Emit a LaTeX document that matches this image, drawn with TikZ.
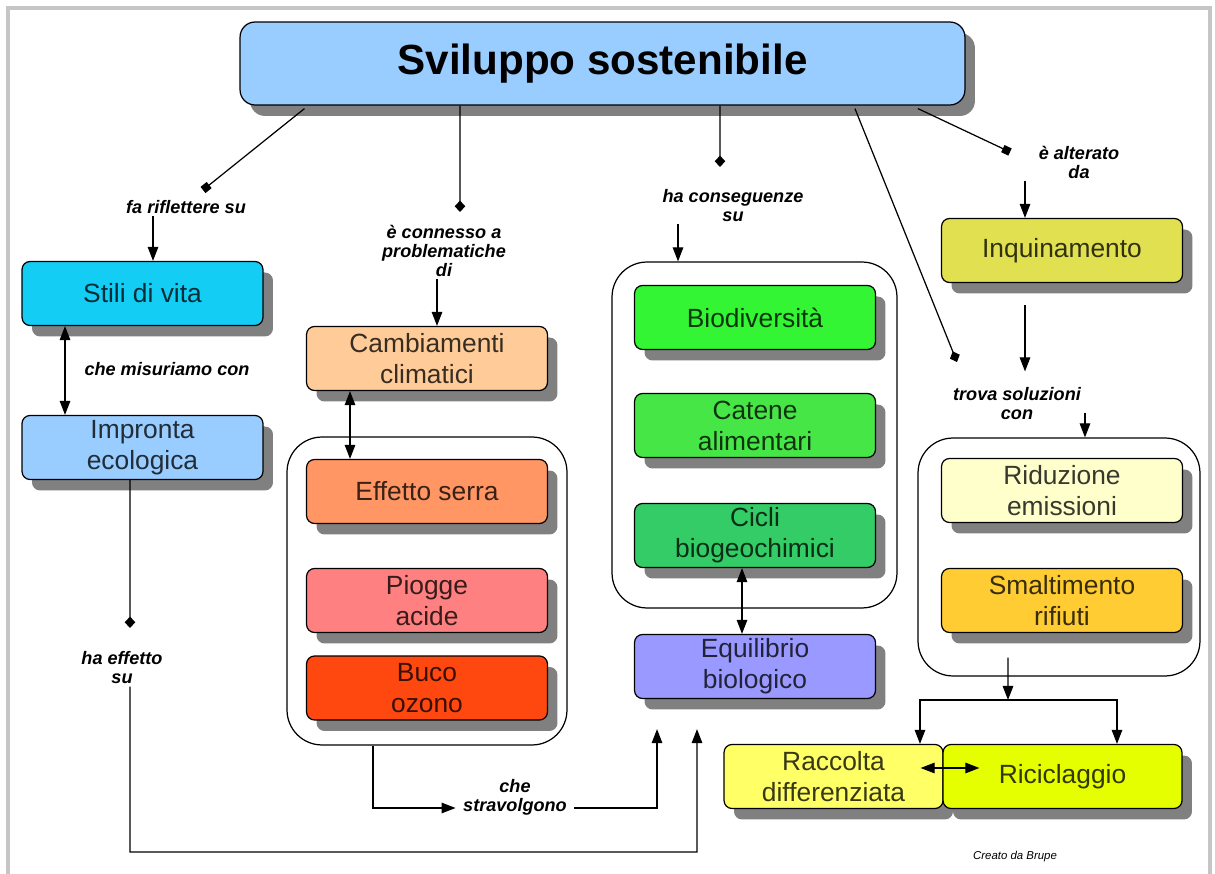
\documentclass[tikz,border=0pt]{standalone}
\usepackage{fontspec}
\setmainfont{Liberation Sans}
\usetikzlibrary{arrows.meta,shadows}

\definecolor{titleblue}{RGB}{153,204,255}
\definecolor{stilicol}{RGB}{20,205,245}
\definecolor{cambicol}{RGB}{255,204,153}
\definecolor{effecol}{RGB}{255,150,100}
\definecolor{pioggecol}{RGB}{255,128,128}
\definecolor{bucocol}{RGB}{255,72,16}
\definecolor{biocol}{RGB}{51,245,51}
\definecolor{catenecol}{RGB}{70,230,70}
\definecolor{ciclicol}{RGB}{51,204,102}
\definecolor{equicol}{RGB}{153,153,255}
\definecolor{inqcol}{RGB}{224,224,80}
\definecolor{riducol}{RGB}{255,255,204}
\definecolor{smaltcol}{RGB}{255,204,51}
\definecolor{raccol}{RGB}{255,255,102}
\definecolor{ricicol}{RGB}{230,255,0}
\definecolor{shadowgray}{RGB}{128,128,128}

\begin{document}
\begin{tikzpicture}[x=0.02cm, y=-0.02cm, line width=0.7pt,
  cbox/.style={draw=black, rounded corners=0.16cm, fill=#1, text=#1!22!black,
    minimum width=4.82cm, minimum height=1.28cm, inner sep=2pt, align=center,
    font=\fontsize{15}{17.6}\selectfont,
    drop shadow={shadow xshift=0.2cm, shadow yshift=-0.22cm, fill=shadowgray, opacity=1}},
  grp/.style={draw=black, rounded corners=0.7cm, fill=white},
  lbl/.style={font=\bfseries\itshape\fontsize{10.3}{10.8}\selectfont, align=center, inner sep=1pt},
  arr/.style={-{Triangle[length=8pt,width=6pt]}},
  dbl/.style={{Triangle[length=8pt,width=6pt]}-{Triangle[length=8pt,width=6pt]}},
  sq/.style={-{Square[length=4.5pt]}},
  dia/.style={-{Turned Square[length=6.5pt,width=6pt]}}]
\useasboundingbox (0,0) rectangle (1215,874);
\draw[gray!45, line width=2pt] (8,874) -- (8,8) -- (1210,8) -- (1210,874);

% gruppi
\node[grp, minimum width=5.6cm, minimum height=6.16cm] (gl) at (427,591) {};
\node[grp, minimum width=5.7cm, minimum height=6.92cm] (gm) at (754.5,435) {};
\node[grp, minimum width=5.64cm, minimum height=4.76cm] (gr) at (1059,557) {};

% concetti
\node[cbox=titleblue, minimum width=14.5cm, minimum height=1.66cm, rounded corners=0.3cm,
  text=black, font=\bfseries\fontsize{24}{28}\selectfont] (sv) at (602.5,63.5) {Sviluppo sostenibile};
\node[cbox=stilicol] (st) at (142.5,293.5) {Stili di vita};
\node[cbox=titleblue] (im) at (142.5,447.5) {Impronta\\ecologica};
\node[cbox=cambicol] (cm) at (427,358.5) {Cambiamenti\\climatici};
\node[cbox=effecol] (ef) at (427,491.5) {Effetto serra};
\node[cbox=pioggecol] (pa) at (427,600.5) {Piogge\\acide};
\node[cbox=bucocol] (bo) at (427,688) {Buco\\ozono};
\node[cbox=biocol] (bd) at (755,317.5) {Biodiversità};
\node[cbox=catenecol] (ca) at (755,425.5) {Catene\\alimentari};
\node[cbox=ciclicol] (cc) at (755,535.5) {Cicli\\biogeochimici};
\node[cbox=equicol] (eq) at (755,666.5) {Equilibrio\\biologico};
\node[cbox=inqcol] (iq) at (1062,250.5) {Inquinamento};
\node[cbox=riducol] (re) at (1062,490.5) {Riduzione\\emissioni};
\node[cbox=smaltcol] (sr) at (1062,600.5) {Smaltimento\\rifiuti};
\node[cbox=raccol, minimum width=4.38cm] (rc) at (833.5,776.5) {Raccolta\\differenziata};
\node[cbox=ricicol, minimum width=4.78cm] (ri) at (1062.5,776.5) {Riciclaggio};

% etichette
\node[lbl] (l1) at (186,207) {fa riflettere su};
\node[lbl] (l2) at (444,251) {è connesso a\\problematiche\\di};
\node[lbl] (l3) at (733,206) {ha conseguenze\\su};
\node[lbl] (l4) at (1079,162) {è alterato\\da};
\node[lbl] (l5) at (1017,404) {trova soluzioni\\con};
\node[lbl] (l6) at (167,369) {che misuriamo con};
\node[lbl] (l7) at (122,668) {ha effetto\\su};
\node[lbl] (l8) at (515,797) {che\\stravolgono};
\node[font=\itshape\fontsize{6.5}{8}\selectfont] (cr) at (1015,857) {Creato da Brupe};

\coordinate (m1) at (203,190);
\coordinate (m2) at (460,212);
\coordinate (m3) at (720,167);
\coordinate (m4) at (957,362);
\coordinate (m5) at (1010,152);
\coordinate (m8) at (130,628);
\coordinate (ret) at (130,852);
\coordinate (split) at (1008,700);

% dal titolo
\draw[sq] ([xshift=1.3cm,yshift=-0.06cm]sv.south west) -- (m1);
\draw[dia] ([xshift=-2.85cm]sv.south) -- (m2);
\draw[dia] ([xshift=2.35cm]sv.south) -- (m3);
\draw[dia] ([xshift=5.05cm,yshift=-0.06cm]sv.south) -- (m4);
\draw[sq] ([xshift=6.31cm,yshift=-0.06cm]sv.south) -- (m5);

% dalle etichette
\draw[arr] ([xshift=-0.66cm]l1.south) -- ([xshift=-0.66cm]l1.south |- st.north);
\draw[arr] ([xshift=-0.14cm]l2.south) -- ([xshift=-0.14cm]l2.south |- cm.north);
\draw[arr] ([xshift=-1.1cm]l3.south) -- ([xshift=-1.1cm]l3.south |- gm.north);
\draw[arr] ([xshift=-1.08cm]l4.south) -- ([xshift=-1.08cm]l4.south |- iq.north);
\draw[arr] ([xshift=1.36cm,yshift=0.2cm]l5.south) -- ([xshift=1.36cm]l5.south |- gr.north);
\draw[arr, shorten >=8pt] ([xshift=-0.74cm,yshift=-0.44cm]iq.south) -- ([xshift=-0.74cm]iq.south |- l5.north);

\draw[dbl] ([xshift=-1.55cm]st.south) -- ([xshift=-1.55cm]im.north);
\draw[dia] ([xshift=-0.25cm]im.south) -- (m8);
\draw[arr] ([xshift=0.16cm]l7.south) -- (ret) -| ([xshift=-1.16cm,yshift=-0.6cm]eq.south);

\draw[dbl] ([xshift=-1.54cm]cm.south) -- ([xshift=-1.54cm]ef.north);
\draw[arr, shorten >=3pt] ([xshift=-1.08cm]gl.south) |- ([yshift=-0.22cm]l8.west);
\draw[arr, shorten <=3pt] ([yshift=-0.22cm]l8.east) -| ([xshift=-1.96cm,yshift=-0.6cm]eq.south);
\draw[dbl] ([xshift=-0.26cm]cc.south) -- ([xshift=-0.26cm]eq.north);

\draw[arr] ([xshift=-1.02cm,yshift=0.38cm]gr.south) -- (split);
\draw[arr] (split) -| ([xshift=1.73cm]rc.north);
\draw[arr] (split) -| ([xshift=1.09cm]ri.north);
\draw[dbl] ([xshift=-0.46cm,yshift=0.17cm]rc.east) -- ([xshift=0.74cm,yshift=0.17cm]ri.west);
\end{tikzpicture}
\end{document}
